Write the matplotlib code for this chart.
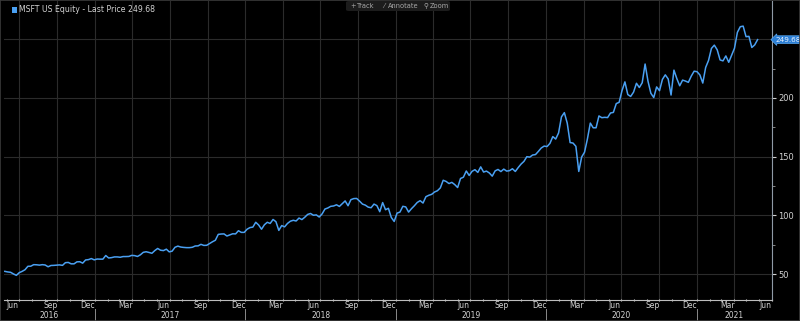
"""MSFT US Equity - last price chart, dark terminal style."""

import matplotlib

matplotlib.use("Agg")
import matplotlib.dates as mdates
import matplotlib.pyplot as plt
import matplotlib.transforms as mtransforms
import pandas as pd
from matplotlib.patches import FancyBboxPatch, Rectangle

# ── weekly closes (Friday) ─────────────────────────────────────────────────
close_2016 = [  # from 2016-05-27
    52.3, 51.8, 51.5, 50.1, 48.9, 51.2, 52.3, 53.7, 56.6, 56.7,
    58.0, 57.9, 57.6, 58.0, 57.7, 56.2, 57.3, 57.4, 57.6, 57.8,
    57.4, 59.7, 59.9, 58.7, 58.7, 60.4, 60.5, 59.3, 62.0, 62.3,
    63.2, 62.1,
]
close_2017 = [  # from 2017-01-06
    62.8, 62.7, 62.7, 65.8, 63.7, 64.0, 64.6, 64.6, 64.3, 64.9,
    64.9, 65.0, 65.9, 65.7, 65.0, 66.4, 68.5, 69.0, 68.4, 67.7,
    70.0, 71.8, 70.3, 70.0, 71.2, 68.9, 69.5, 72.8, 73.8, 73.0,
    72.7, 72.5, 72.5, 72.8, 73.9, 74.0, 75.3, 74.4, 74.5, 76.0,
    77.5, 78.8, 83.8, 84.1, 84.2, 82.4, 83.3, 84.3, 84.2, 86.9,
    85.5, 85.5,
]
close_2018 = [  # from 2018-01-05
    88.2, 89.6, 90.0, 94.1, 91.8, 88.2, 92.0, 94.1, 93.1, 96.5,
    94.6, 87.2, 91.3, 90.2, 93.1, 95.0, 95.8, 95.2, 97.7, 96.4,
    98.4, 100.8, 101.6, 100.1, 100.4, 98.6, 101.2, 105.4, 106.3, 107.7,
    108.0, 109.0, 107.6, 110.0, 112.3, 108.2, 113.4, 114.3, 114.4, 112.1,
    109.6, 108.7, 107.0, 106.5, 109.6, 108.3, 103.1, 110.9, 104.8, 106.0,
    98.2, 94.8,
]
close_2019 = [  # from 2019-01-04
    101.9, 102.8, 107.7, 107.2, 102.8, 105.7, 108.2, 111.0, 112.5, 110.5,
    115.9, 117.1, 117.9, 119.9, 121.0, 123.4, 129.9, 128.9, 127.1, 128.1,
    126.2, 123.7, 131.4, 132.5, 137.8, 134.0, 137.5, 138.9, 136.6, 141.3,
    136.9, 137.7, 136.1, 133.4, 137.9, 139.1, 137.3, 139.4, 137.7, 138.1,
    139.7, 137.4, 140.7, 143.7, 146.0, 150.0, 149.6, 151.4, 151.8, 154.5,
    157.4, 159.0,
]
close_2020 = [  # from 2020-01-03
    158.6, 161.3, 167.1, 165.0, 170.2, 183.9, 187.5, 178.6, 162.0, 161.6,
    158.8, 137.4, 149.7, 153.8, 165.1, 178.6, 174.6, 174.6, 184.7, 183.2,
    183.5, 183.3, 187.2, 187.7, 195.2, 196.3, 206.3, 213.7, 202.9, 201.3,
    205.0, 212.5, 208.9, 213.0, 228.9, 214.3, 204.0, 200.4, 209.4, 206.2,
    215.8, 219.7, 216.2, 202.5, 223.7, 216.5, 210.4, 215.2, 214.4, 213.3,
    218.6, 222.8,
]
close_2021 = [  # from 2021-01-01
    222.4, 219.6, 212.7, 226.0, 232.0, 242.2, 245.0, 241.0, 232.4, 231.6,
    235.8, 230.4, 236.5, 242.4, 255.9, 260.7, 261.2, 252.2, 252.5, 243.0,
    245.2, 249.68,
]
year_starts = ["2016-05-27", "2017-01-06", "2018-01-05",
               "2019-01-04", "2020-01-03", "2021-01-01"]
last_price = 249.68
y_ticks = [50, 100, 150, 200]
y_grid = [50, 100, 150, 200, 250]
years = [2016, 2017, 2018, 2019, 2020, 2021]

BG = "black"
LINE = "#4aa0f2"
GRID = "#2b2b2b"
TXT = "#d2d2d2"

series = []
for start, vals in zip(year_starts, [close_2016, close_2017, close_2018,
                                     close_2019, close_2020, close_2021]):
    idx = pd.date_range(start, periods=len(vals), freq="7D")
    series.append(pd.Series(vals, index=idx))
price = pd.concat(series)

x0, x1 = pd.Timestamp("2016-05-25"), pd.Timestamp("2021-07-02")

fig = plt.figure(figsize=(8.0, 3.21), dpi=100, facecolor=BG)
ax = fig.add_axes([4 / 800, 21 / 321, 768 / 800, 299 / 321], facecolor=BG)

# ── grid ─────────────────────────────────────────────────────────────────
for q in pd.date_range("2016-07-01", "2021-07-01", freq="QS"):
    ax.axvline(q, color=GRID, lw=0.8, zorder=0)
for g in y_grid:
    ax.axhline(g, color=GRID, lw=0.8, zorder=0)

ax.plot(price.index, price.values, color=LINE, lw=1.1, zorder=3)

ax.set_xlim(x0, x1)
ax.set_ylim(27.9, 282.6)

# ── spines ───────────────────────────────────────────────────────────────
for side in ("top", "left"):
    ax.spines[side].set_visible(False)
ax.spines["bottom"].set_color("#bdbdbd")
ax.spines["right"].set_color("#8f9aa6")
ax.spines["bottom"].set_linewidth(0.8)
ax.spines["right"].set_linewidth(0.8)

# ── x axis: month labels mid-month, minor ticks at month starts ─────────
mid = pd.date_range("2016-06-01", "2021-06-01", freq="3MS") + pd.Timedelta(days=14)
ax.set_xticks(mid)
ax.set_xticklabels([d.strftime("%b") for d in mid])
ax.xaxis.set_minor_locator(mdates.MonthLocator())
ax.tick_params(axis="x", which="major", length=0, pad=0.5, labelsize=5.5,
               labelcolor=TXT)
ax.tick_params(axis="x", which="minor", length=2, direction="inout",
               color="#d0d0d0", width=0.8)

trans = mtransforms.blended_transform_factory(ax.transData, ax.transAxes)
for yr in years:
    lo = max(pd.Timestamp(f"{yr}-01-01"), x0)
    hi = min(pd.Timestamp(f"{yr + 1}-01-01"), x1)
    ax.text(lo + (hi - lo) / 2, -0.052, str(yr), transform=trans,
            ha="center", va="center", fontsize=5.5, color=TXT)
    if yr > 2016:
        ax.plot([lo, lo], [-0.03, -0.07], transform=trans, clip_on=False,
                color="#8a8a8a", lw=0.7)

# ── y axis on the right ───────────────────────────────────────────────────
ax.yaxis.tick_right()
ax.set_yticks(y_ticks)
ax.set_yticks([75, 125, 175, 225], minor=True)
ax.tick_params(axis="y", which="major", length=3, width=0.8, pad=1.5,
               color="#cfcfcf", labelsize=6, labelcolor=TXT)
ax.tick_params(axis="y", which="minor", length=2, width=0.6, color="#9a9a9a")

# last price tag
ytrans = mtransforms.blended_transform_factory(ax.transAxes, ax.transData)
ax.text(1.004, last_price, f"{last_price:.2f}", transform=ytrans,
        ha="left", va="center", fontsize=5.2, color="#e8f2ff", zorder=5,
        bbox=dict(boxstyle="larrow,pad=0.12", fc="#2c7fd6", ec="#5aaaf5", lw=0.5))

# ── legend (top-left) ─────────────────────────────────────────────────────
fig.patches.append(Rectangle((12 / 800, 1 - 13 / 321), 5 / 800, 6 / 321,
                             transform=fig.transFigure, fc=LINE, ec="none"))
fig.text(19 / 800, 1 - 10 / 321, f"MSFT US Equity - Last Price {last_price:.2f}",
         ha="left", va="center", fontsize=5.6, color=TXT)

# ── toolbar (top-centre) ──────────────────────────────────────────────────
fig.patches.append(FancyBboxPatch((346 / 800, 1 - 11 / 321), 104 / 800, 10 / 321,
                                  boxstyle="round,pad=0,rounding_size=0.004",
                                  transform=fig.transFigure, fc="#1c1c1c", ec="none"))
for xp, label in [(350, "+"), (357, "Track"), (383, "\u2044"), (388, "Annotate"),
                  (423, "\u26b2"), (430, "Zoom")]:
    fig.text(xp / 800, 1 - 6 / 321, label, ha="left", va="center",
             fontsize=4.8, color="#a8a8a8",
             family=["DejaVu Sans", "Noto Sans CJK SC"])

# outer frame
fig.patches.append(Rectangle((0, 0), 1, 1, transform=fig.transFigure,
                             fc="none", ec="#3a3a3a", lw=1.2))

fig.savefig("out.png", dpi=100, facecolor=BG)
plt.close(fig)
